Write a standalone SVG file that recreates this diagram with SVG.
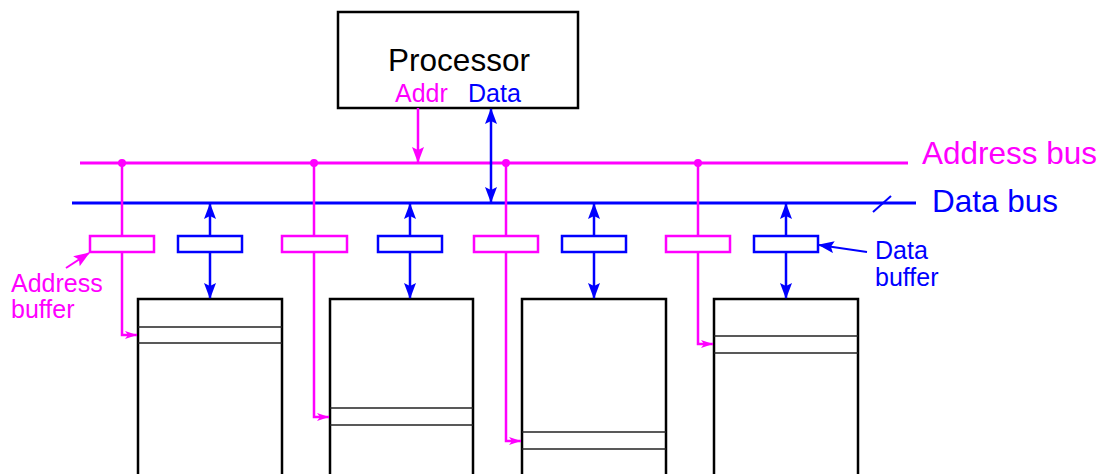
<svg xmlns="http://www.w3.org/2000/svg" width="1102" height="474" viewBox="0 0 1102 474">
<style>
text{font-family:"Liberation Sans",Arial,sans-serif}
.m{stroke:#ff00ff;fill:none}
.b{stroke:#0000ff;fill:none}
.mem{fill:#fff;stroke:#000;stroke-width:2.5}
.row{stroke:#222;stroke-width:1.5}
.buf{fill:#fff;stroke-width:2.5}
</style>
<defs>
<marker id="hb" viewBox="0 0 16 12" refX="15" refY="6" markerWidth="16" markerHeight="12" orient="auto-start-reverse" markerUnits="userSpaceOnUse">
<path d="M0,0 L16,6 L0,12 L3,6 Z" fill="#0000ff"/>
</marker>
<marker id="hm" viewBox="0 0 16 12" refX="15" refY="6" markerWidth="16" markerHeight="12" orient="auto" markerUnits="userSpaceOnUse">
<path d="M0,0 L16,6 L0,12 L3,6 Z" fill="#ff00ff"/>
</marker>
<marker id="sm" viewBox="0 0 12 8" refX="12" refY="4" markerWidth="12" markerHeight="8" orient="auto" markerUnits="userSpaceOnUse">
<path d="M0,0 L12,4 L0,8 L3,4 Z" fill="#ff00ff"/>
</marker>
</defs>

<g id="processor">
<rect x="338" y="12" width="240" height="96" fill="#fff" stroke="#000" stroke-width="2.5"/>
<text x="459" y="71" font-size="31.5" text-anchor="middle" fill="#000">Processor</text>
<text x="395" y="102" font-size="25" fill="#ff00ff">Addr</text>
<text x="468" y="102" font-size="25" fill="#0000ff">Data</text>
</g>

<g id="memories">
<g id="mem1"><rect class="mem" x="138" y="299" width="144" height="190"/><line class="row" x1="138" y1="327" x2="282" y2="327"/><line class="row" x1="138" y1="343" x2="282" y2="343"/></g>
<g id="mem2"><rect class="mem" x="330" y="299" width="143" height="190"/><line class="row" x1="330" y1="408" x2="473" y2="408"/><line class="row" x1="330" y1="425" x2="473" y2="425"/></g>
<g id="mem3"><rect class="mem" x="522" y="299" width="144" height="190"/><line class="row" x1="522" y1="432" x2="666" y2="432"/><line class="row" x1="522" y1="449" x2="666" y2="449"/></g>
<g id="mem4"><rect class="mem" x="714" y="299" width="144" height="190"/><line class="row" x1="714" y1="336" x2="858" y2="336"/><line class="row" x1="714" y1="353" x2="858" y2="353"/></g>
</g>

<g id="buses">
<line class="m" x1="80" y1="163" x2="908" y2="163" stroke-width="3"/>
<line class="b" x1="72" y1="203" x2="916" y2="203" stroke-width="3"/>
<line class="b" x1="873" y1="212" x2="891" y2="196" stroke-width="2"/>
<text x="922" y="164" font-size="31.5" fill="#ff00ff">Address bus</text>
<text x="932" y="212" font-size="31.5" fill="#0000ff">Data bus</text>
</g>

<g id="connectors">
<line class="m" x1="418" y1="108" x2="418" y2="162" stroke-width="2.5" marker-end="url(#hm)"/>
<line class="b" x1="491" y1="109" x2="491" y2="202" stroke-width="2.5" marker-start="url(#hb)" marker-end="url(#hb)"/>
<g fill="#ff00ff">
<circle cx="122" cy="163" r="4"/><circle cx="314" cy="163" r="4"/><circle cx="506" cy="163" r="4"/><circle cx="698" cy="163" r="4"/>
</g>
<polyline class="m" stroke-width="2.5" points="122,163 122,335 137,335" marker-end="url(#sm)"/>
<polyline class="m" stroke-width="2.5" points="314,163 314,417 329,417" marker-end="url(#sm)"/>
<polyline class="m" stroke-width="2.5" points="506,163 506,441 521,441" marker-end="url(#sm)"/>
<polyline class="m" stroke-width="2.5" points="698,163 698,344 713,344" marker-end="url(#sm)"/>
<line class="b" x1="210" y1="236" x2="210" y2="204" stroke-width="2.5" marker-end="url(#hb)"/>
<line class="b" x1="210" y1="252" x2="210" y2="298" stroke-width="2.5" marker-end="url(#hb)"/>
<line class="b" x1="410" y1="236" x2="410" y2="204" stroke-width="2.5" marker-end="url(#hb)"/>
<line class="b" x1="410" y1="252" x2="410" y2="298" stroke-width="2.5" marker-end="url(#hb)"/>
<line class="b" x1="594" y1="236" x2="594" y2="204" stroke-width="2.5" marker-end="url(#hb)"/>
<line class="b" x1="594" y1="252" x2="594" y2="298" stroke-width="2.5" marker-end="url(#hb)"/>
<line class="b" x1="786" y1="236" x2="786" y2="204" stroke-width="2.5" marker-end="url(#hb)"/>
<line class="b" x1="786" y1="252" x2="786" y2="298" stroke-width="2.5" marker-end="url(#hb)"/>
<line class="m" x1="66" y1="268" x2="89" y2="253" stroke-width="2" marker-end="url(#hm)"/>
<line class="b" x1="867" y1="252" x2="819" y2="245" stroke-width="2" marker-end="url(#hb)"/>
</g>

<g id="buffers">
<rect class="buf" x="90" y="236" width="64" height="16" stroke="#ff00ff"/>
<rect class="buf" x="282" y="236" width="65" height="16" stroke="#ff00ff"/>
<rect class="buf" x="474" y="236" width="64" height="16" stroke="#ff00ff"/>
<rect class="buf" x="666" y="236" width="64" height="16" stroke="#ff00ff"/>
<rect class="buf" x="178" y="236" width="64" height="16" stroke="#0000ff"/>
<rect class="buf" x="378" y="236" width="64" height="16" stroke="#0000ff"/>
<rect class="buf" x="562" y="236" width="64" height="16" stroke="#0000ff"/>
<rect class="buf" x="754" y="236" width="64" height="16" stroke="#0000ff"/>
</g>

<g id="labels">
<text x="11" y="292" font-size="25" fill="#ff00ff">Address</text>
<text x="11" y="318" font-size="25" fill="#ff00ff">buffer</text>
<text x="875" y="259" font-size="25" fill="#0000ff">Data</text>
<text x="875" y="286" font-size="25" fill="#0000ff">buffer</text>
</g>
</svg>
